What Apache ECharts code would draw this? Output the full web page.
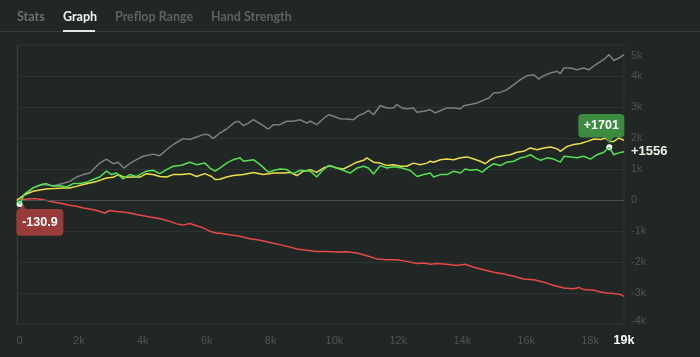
<!DOCTYPE html>
<html>
<head>
<meta charset="utf-8">
<script src="https://cdn.jsdelivr.net/npm/echarts@6/dist/echarts.min.js"></script>
<style>
html,body{margin:0;padding:0;background:#212725;}
#chart{width:700px;height:357px;}
</style>
</head>
<body>
<div id="chart"></div>
<script>
// ---- data (hands, amount) ----
var tabs = ['Stats', 'Graph', 'Preflop Range', 'Hand Strength'];
var xTickStep = 2000;
var xMax = 19000;
var yMin = -4000, yMax = 5000, yStep = 1000;

var grayData = [[0,0],[400,280],[500,390],[810,500],[1130,460],[1440,530],[1650,600],[1860,740],[2070,820],[2280,870],[2490,1090],[2590,1190],[2800,1320],[3010,1170],[3170,1220],[3340,1030],[3530,1170],[3740,1300],[3950,1410],[4260,1480],[4470,1430],[4680,1620],[4890,1790],[5200,1980],[5410,1950],[5620,2030],[5830,2110],[5990,2110],[6140,1980],[6350,2160],[6560,2290],[6820,2510],[6930,2540],[7090,2400],[7240,2480],[7400,2590],[7610,2460],[7870,2290],[8030,2430],[8230,2430],[8440,2540],[8650,2540],[8860,2590],[9070,2480],[9180,2540],[9380,2430],[9590,2620],[9750,2750],[9910,2700],[10120,2620],[10320,2610],[10530,2590],[10690,2720],[10850,2790],[11000,2890],[11160,2750],[11370,3050],[11580,2970],[11790,2970],[11890,3080],[12050,2970],[12200,2940],[12410,2970],[12520,2830],[12730,2860],[12940,2910],[13090,2810],[13250,2880],[13460,2970],[13670,2970],[13880,2940],[13980,3040],[14190,3080],[14400,3130],[14610,3220],[14770,3290],[14920,3450],[15130,3470],[15340,3560],[15550,3720],[15760,3880],[15970,4010],[16180,4040],[16330,3900],[16490,4010],[16700,4100],[16910,4150],[17010,4080],[17120,4260],[17330,4260],[17530,4200],[17740,4260],[17900,4200],[18060,4330],[18270,4470],[18420,4580],[18530,4690],[18680,4500],[18840,4580],[19000,4690]];

var redData = [[0,0],[190,10],[400,40],[610,40],[820,10],[1020,-40],[1230,-80],[1440,-120],[1650,-170],[1860,-200],[2070,-260],[2280,-290],[2490,-340],[2750,-420],[2900,-340],[3110,-370],[3320,-390],[3530,-420],[3740,-470],[3950,-510],[4160,-550],[4370,-580],[4580,-630],[4790,-690],[4990,-770],[5200,-810],[5410,-760],[5620,-830],[5830,-900],[6040,-1010],[6250,-1070],[6350,-1070],[6660,-1120],[6980,-1170],[7290,-1250],[7610,-1300],[7920,-1370],[8230,-1440],[8550,-1520],[8760,-1580],[9070,-1620],[9380,-1660],[9700,-1660],[10010,-1680],[10320,-1670],[10640,-1710],[10950,-1800],[11260,-1900],[11580,-1930],[11890,-1930],[12200,-1980],[12520,-2050],[12730,-2030],[12940,-2070],[13150,-2050],[13460,-2070],[13770,-2110],[14030,-2070],[14300,-2170],[14610,-2250],[14920,-2330],[15240,-2390],[15550,-2460],[15860,-2550],[16180,-2570],[16490,-2650],[16800,-2760],[17120,-2840],[17430,-2860],[17590,-2820],[17740,-2890],[18060,-2910],[18270,-2970],[18470,-3000],[18680,-3020],[18890,-3050],[19000,-3110]];

var yellowData = [[0,0],[240,170],[500,280],[760,330],[970,360],[1180,370],[1440,390],[1650,390],[1860,440],[2070,500],[2280,550],[2490,600],[2800,710],[3010,730],[3170,820],[3380,730],[3640,740],[3850,740],[4050,850],[4260,820],[4470,760],[4680,740],[4890,820],[5150,820],[5410,850],[5620,760],[5880,850],[6090,760],[6200,660],[6350,670],[6560,740],[6770,790],[7090,820],[7400,890],[7710,820],[8030,870],[8340,870],[8550,890],[8760,790],[8970,930],[9180,980],[9380,890],[9590,1030],[9800,1110],[10010,1030],[10220,1000],[10430,1110],[10640,1220],[10850,1280],[10950,1360],[11160,1220],[11370,1190],[11580,1110],[11790,1140],[12000,1090],[12200,1090],[12410,1190],[12620,1140],[12830,1190],[12940,1250],[13040,1220],[13250,1300],[13460,1320],[13670,1300],[13880,1360],[14090,1390],[14300,1320],[14500,1250],[14660,1170],[14820,1300],[15030,1390],[15240,1430],[15440,1460],[15650,1540],[15860,1570],[16070,1680],[16280,1620],[16490,1680],[16700,1710],[16910,1650],[17010,1570],[17220,1730],[17430,1790],[17640,1820],[17850,1890],[18060,1970],[18270,1950],[18420,2000],[18530,1890],[18680,1890],[18840,2000],[19000,1925]];

var greenData = [[0,0],[80,-130.9],[240,200],[500,390],[760,500],[920,530],[1130,440],[1340,460],[1550,420],[1760,530],[1960,530],[2170,570],[2380,660],[2590,740],[2800,930],[2960,820],[3110,870],[3320,680],[3530,820],[3740,760],[4050,930],[4260,960],[4470,850],[4680,980],[4890,1090],[5150,1120],[5410,1220],[5620,1140],[5880,1190],[6040,1030],[6200,930],[6350,1030],[6560,1190],[6770,1300],[6980,1360],[7090,1250],[7400,1300],[7610,1140],[7870,900],[8030,950],[8230,1000],[8440,980],[8650,850],[8860,960],[9180,930],[9380,740],[9590,980],[9750,1110],[10010,1030],[10220,950],[10430,870],[10640,1030],[10850,1090],[11000,1030],[11160,840],[11370,1110],[11580,1030],[11790,1070],[12050,1030],[12310,950],[12520,760],[12730,820],[12940,870],[13040,740],[13250,820],[13460,820],[13670,930],[13880,870],[14030,1000],[14190,960],[14400,980],[14560,900],[14710,1030],[14920,1170],[15130,1110],[15340,1220],[15550,1250],[15760,1360],[15910,1390],[16070,1460],[16230,1360],[16390,1280],[16590,1360],[16800,1320],[17010,1220],[17120,1410],[17330,1390],[17530,1360],[17740,1410],[17950,1320],[18160,1460],[18370,1540],[18540,1701],[18680,1460],[18840,1520],[19000,1556]];

var maxPoint = [18540, 1701];
var minPoint = [80, -130.9];
var endValue = 1556;

// ---- chart ----
var FONT = '"Liberation Sans", Arial, sans-serif';
var chart = echarts.init(document.getElementById('chart'), null, {renderer: 'canvas'});

var greenBox = 'path://M4 0 H42 Q46 0 46 4 V19.5 Q46 23.5 42 23.5 H35 L31 29 L27 23.5 H4 Q0 23.5 0 19.5 V4 Q0 0 4 0 Z';
var redBox = 'path://M4 6 H43 Q47 6 47 10 V28.7 Q47 32.7 43 32.7 H4 Q0 32.7 0 28.7 V10 Q0 6 4 6 Z M2.5 6.5 L6 0 L9.5 6.5 Z';

function kfmt(v) { return v === 0 ? '0' : (v / 1000) + 'k'; }

var tabX = [17, 63, 115, 211];
var tabColors = ['#6b706d', '#f2f2f2', '#5d6260', '#5d6260'];
var graphics = [
  {type: 'rect', shape: {x: 0, y: 31, width: 700, height: 1}, style: {fill: '#343a37'}, silent: true},
  {type: 'rect', shape: {x: 63, y: 30, width: 32, height: 2}, style: {fill: '#e6e6e6'}, silent: true}
];
tabs.forEach(function (t, i) {
  graphics.push({type: 'text', x: tabX[i], y: 17, silent: true,
    style: {text: t, fill: tabColors[i], font: 'bold 12.5px Lato, "Open Sans", sans-serif', textVerticalAlign: 'middle'}});
});

var option = {
  backgroundColor: '#212725',
  animation: false,
  graphic: graphics,
  grid: {left: 17, right: 76, top: 45, bottom: 33, show: true, borderColor: '#2d3330', borderWidth: 1, backgroundColor: 'transparent'},
  xAxis: {
    type: 'value', min: 0, max: xMax, interval: xTickStep,
    axisLine: {show: false}, axisTick: {show: false}, splitLine: {show: false},
    axisLabel: {
      margin: 10, fontFamily: FONT,
      formatter: function (v) {
        if (v === xMax) return '{b|' + kfmt(v) + '}';
        if (v === 0) return '{z|' + kfmt(v) + '}';
        return '{a|' + kfmt(v) + '}';
      },
      rich: {
        a: {fontSize: 11, color: '#4e5451', lineHeight: 14, fontFamily: FONT, padding: [0, 4, 0, 0]},
        z: {fontSize: 11, color: '#4e5451', lineHeight: 14, fontFamily: FONT, padding: [0, 0, 0, 5]},
        b: {fontSize: 12.5, color: '#ffffff', fontWeight: 'bold', lineHeight: 14, fontFamily: FONT}
      }
    }
  },
  yAxis: {
    type: 'value', position: 'right', min: yMin, max: yMax, interval: yStep,
    axisLine: {show: true, lineStyle: {color: '#353b38'}}, axisTick: {show: false},
    splitLine: {show: true, lineStyle: {color: '#2d3330', width: 1}},
    axisLabel: {
      margin: 7, fontFamily: FONT,
      formatter: function (v) {
        if (v === yMax) return '{t|' + kfmt(v) + '}';
        if (v === yMin) return '{m|' + kfmt(v) + '}';
        return '{a|' + kfmt(v) + '}';
      },
      rich: {
        a: {fontSize: 11, color: '#4e5451', fontFamily: FONT},
        t: {fontSize: 11, color: '#4e5451', fontFamily: FONT, padding: [21, 0, 0, 0]},
        m: {fontSize: 11, color: '#4e5451', fontFamily: FONT, padding: [0, 0, 6, 0]}
      }
    }
  },
  series: [
    {type: 'line', data: grayData, showSymbol: false, lineStyle: {color: '#7d7f7e', width: 1.5}, z: 2,
     markLine: {silent: true, symbol: 'none', label: {show: false}, lineStyle: {color: '#4a504d', width: 1, type: 'solid'}, data: [{yAxis: 0}]}},
    {type: 'line', data: redData, showSymbol: false, lineStyle: {color: '#e84848', width: 1.5}, z: 3},
    {type: 'line', data: yellowData, showSymbol: false, lineStyle: {color: '#ece04a', width: 1.5}, z: 4},
    {type: 'line', data: greenData, showSymbol: false, lineStyle: {color: '#55e055', width: 1.5}, z: 5,
     endLabel: {show: true, formatter: function () { return '+' + endValue; }, color: '#eef0e2', fontWeight: 'bold', fontSize: 13, fontFamily: FONT, distance: 7},
     markPoint: {
       silent: true,
       label: {show: false},
       data: [
         {coord: maxPoint, symbol: greenBox, symbolSize: [46, 29], symbolOffset: [-8, -18.8], itemStyle: {color: '#3d8b40'},
          label: {show: true, position: 'inside', offset: [0, -2.75], formatter: '+' + maxPoint[1], color: '#ffffff', fontWeight: 'bold', fontSize: 12.5, fontFamily: FONT}},
         {coord: minPoint, symbol: redBox, symbolSize: [47, 32.7], symbolOffset: [20.3, 15.3], itemStyle: {color: '#983c3a'},
          label: {show: true, position: 'inside', offset: [0, 3.2], formatter: '' + minPoint[1], color: '#ffffff', fontWeight: 'bold', fontSize: 12.5, fontFamily: FONT}},
         {coord: maxPoint, symbol: 'circle', symbolSize: 6, itemStyle: {color: '#ffffff'}, label: {show: false}},
         {coord: minPoint, symbol: 'circle', symbolSize: 6, itemStyle: {color: '#ffffff'}, label: {show: false}}
       ]
     }}
  ]
};
chart.setOption(option);
</script>
</body>
</html>
